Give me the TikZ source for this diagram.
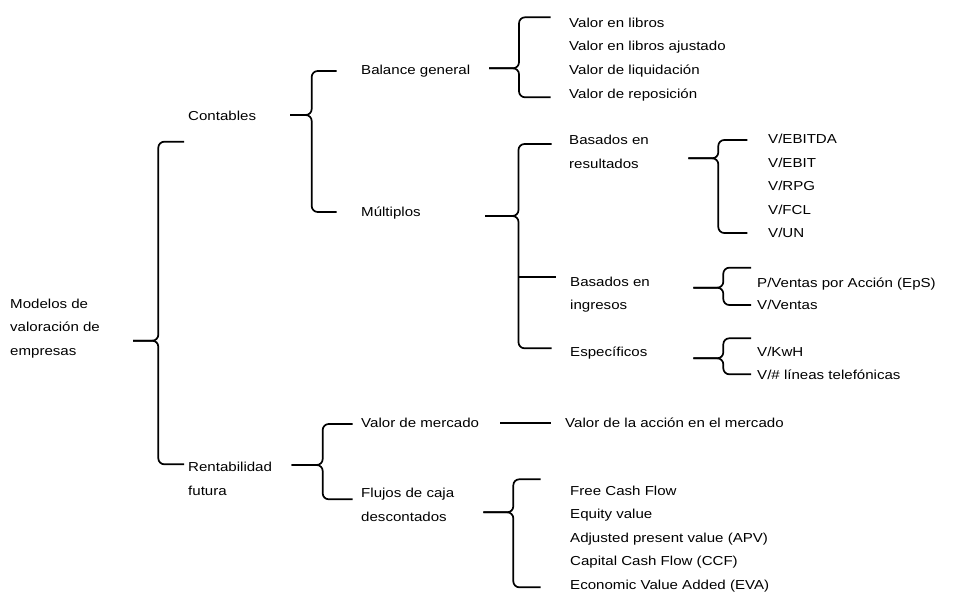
\documentclass[tikz,border=0pt]{standalone}
\usepackage{fontspec}
\setmainfont{Liberation Sans}[FakeStretch=1.16]
\begin{document}
\begin{tikzpicture}[x=1pt, y=-1pt,
    % Node styles
    lbl/.style={anchor=base west, inner sep=0pt, align=left, font=\fontsize{13}{23.5}\selectfont},
    % Bracket styles
    brace/.style={line width=1.7pt, rounded corners=6pt},
    stub/.style={line width=2.2pt},
  ]
  \useasboundingbox (0,0) rectangle (955,593);

  % Root and first level (multi-line nodes sit on their last line)
  \node[lbl] (modelos) at (10,355) {Modelos de\\valoración de\\empresas};
  \node[lbl] (contables) at (188,120.5) {Contables};
  \node[lbl] (rentab) at (188,495) {Rentabilidad\\futura};

  % Second level
  \node[lbl] (balance) at (361,74.5) {Balance general};
  \node[lbl] (multiplos) at (361,216.5) {Múltiplos};
  \node[lbl] (vmercado) at (361,427) {Valor de mercado};
  \node[lbl] (flujos) at (361,521) {Flujos de caja\\descontados};

  % Third level
  \node[lbl] (basres) at (569,168.5) {Basados en\\resultados};
  \node[lbl] (basing) at (570,309.5) {Basados en\\ingresos};
  \node[lbl] (especif) at (570,356) {Específicos};
  \node[lbl] (vaccion) at (565,427) {Valor de la acción en el mercado};

  % Leaves
  \foreach \t [count=\i] in {Valor en libros, Valor en libros ajustado,
      Valor de liquidación, Valor de reposición}
    \node[lbl] (bal-\i) at (569,3.5+23.7*\i) {\t};
  \foreach \t [count=\i] in {V/EBITDA, V/EBIT, V/RPG, V/FCL, V/UN}
    \node[lbl] (res-\i) at (768,119.9+23.6*\i) {\t};
  \foreach \t [count=\i] in {P/Ventas por Acción (EpS), V/Ventas}
    \node[lbl] (ing-\i) at (757,265+22.3*\i) {\t};
  \foreach \t [count=\i] in {V/KwH, V/\# líneas telefónicas}
    \node[lbl] (esp-\i) at (757,333+23.3*\i) {\t};
  \foreach \t [count=\i] in {Free Cash Flow, Equity value, Adjusted present value (APV),
      Capital Cash Flow (CCF), Economic Value Added (EVA)}
    \node[lbl] (fcd-\i) at (570,472.1+23.4*\i) {\t};

  % Brackets: stub start / vertical / end / tip / top / bottom
  \foreach \xs/\xv/\xe/\yt/\ya/\yb in {133/158.3/184/340.7/141.7/464.3,
      290/311.7/336.7/115/71/212,
      489/519/550.7/68.3/17.3/97.3,
      485/518.5/551.7/216/144/348.3,
      688.3/718.3/747.3/158.3/140/233,
      693.3/723.3/751/287.7/267.7/305,
      693.3/723.3/751/358.3/338.3/374.3,
      291.7/322.7/352.7/465/424/499.3,
      483.3/513.3/540.7/512.3/479.3/587.3} {
    \draw[brace] (\xs,\yt) -- (\xv,\yt) -- (\xv,\ya) -- (\xe,\ya);
    \draw[brace] (\xs,\yt) -- (\xv,\yt) -- (\xv,\yb) -- (\xe,\yb);
  }

  % Single lines
  \draw[stub] (518.5,277) -- (556,277);
  \draw[stub] (500,423) -- (550.7,423);
\end{tikzpicture}
\end{document}
